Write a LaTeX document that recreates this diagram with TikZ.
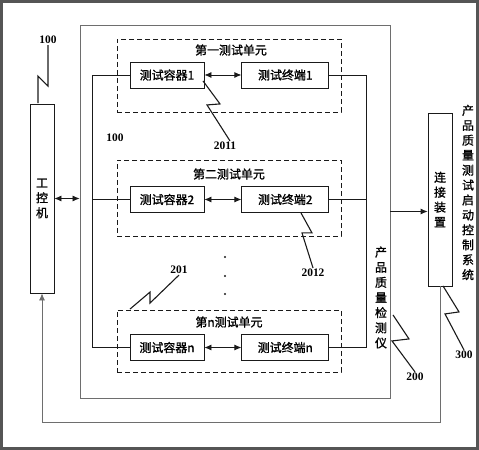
\documentclass[tikz,border=0pt]{standalone}
\usepackage{fontspec}
\setmainfont{Liberation Serif}
\newfontfamily\cjk[FakeBold=1.2]{Noto Sans CJK SC}
\usetikzlibrary{arrows.meta, positioning}
\definecolor{CLine}{HTML}{1A1A1A}
\definecolor{CGray}{HTML}{6E6E6E}
\definecolor{CFrame}{HTML}{555555}
\tikzset{
    devblock/.style={
        rectangle,
        draw=CLine,
        fill=white,
        inner sep=0pt,
        minimum height=26bp,
        font=\cjk\fontsize{12}{15}\selectfont,
        line width=0.8pt
    },
    unitblock/.style={
        rectangle,
        draw=CLine,
        dash pattern=on 5bp off 3bp,
        minimum width=224bp,
        inner sep=0pt,
        line width=0.8pt
    },
    tallblock/.style={
        rectangle,
        draw=CLine,
        minimum width=24bp,
        inner sep=0pt,
        line width=0.8pt
    },
    detblock/.style={
        rectangle,
        draw=CGray,
        inner sep=0pt,
        line width=0.8pt
    },
    vtext/.style={
        align=center,
        inner sep=0pt,
        font=\cjk\fontsize{12}{15}\selectfont
    },
    titletext/.style={
        inner sep=0pt,
        font=\cjk\fontsize{12}{14}\selectfont
    },
    numtext/.style={
        inner sep=1bp,
        font=\bfseries\fontsize{11.5}{12}\selectfont
    },
    flatarrow/.style={
        ->,
        >={Latex[length=7bp, width=6bp]},
        draw=CLine,
        line width=0.8pt
    },
    busline/.style={
        draw=CLine,
        line width=0.8pt
    },
    leader/.style={
        draw=CLine,
        line width=1.1pt
    }
}
\begin{document}
\begin{tikzpicture}[x=1bp, y=-1bp]
    \useasboundingbox (0,0) rectangle (479,450);
    \draw[draw=CFrame, line width=2.5bp] (1.5,1.5) rectangle (477.5,448.5);

    % Nodes
    \node[tallblock, vtext, minimum height=189bp] (ipc) at (42,198.5) {工\\控\\机};
    \node[detblock, minimum width=310bp, minimum height=373bp] (det) at (235,211.5) {};

    \node[unitblock, minimum height=73bp] (unitA) at (229,75.5) {};
    \node[unitblock, minimum height=76bp] (unitB) at (229,198) {};
    \node[unitblock, minimum height=62bp] (unitN) at (229,341) {};

    \node[titletext] (titleA) at (231,50) {第一测试单元};
    \node[titletext] (titleB) at (229,174) {第二测试单元};
    \node[titletext] (titleN) at (229,322) {第n测试单元};

    \node[devblock, minimum width=74bp] (contA) at (167,75) {测试容器1};
    \node[devblock, minimum width=87bp, right=37bp of contA] (termA) {测试终端1};
    \node[devblock, minimum width=74bp] (contB) at (167,199.5) {测试容器2};
    \node[devblock, minimum width=87bp, right=37bp of contB] (termB) {测试终端2};
    \node[devblock, minimum width=74bp] (contN) at (167,347.5) {测试容器n};
    \node[devblock, minimum width=87bp, right=37bp of contN] (termN) {测试终端n};

    \node[tallblock, vtext, minimum height=173bp] (conn) at (440,199.5) {连\\接\\装\\置};
    \node[vtext] (sysname) at (468,192.5) {产\\品\\质\\量\\测\\试\\启\\动\\控\\制\\系\\统};
    \node[vtext, font=\cjk\fontsize{12}{15.2}\selectfont] (detname) at (381,297.5) {产\\品\\质\\量\\检\\测\\仪};

    \foreach \y in {257,276,294}
        \fill[CLine] (225,\y) circle (1.2bp);

    \node[numtext] (numIpc) at (48,40) {100};
    \node[numtext] (numDet) at (115,138) {100};
    \node[numtext] (numA) at (225,146) {2011};
    \node[numtext] (numB) at (313,273) {2012};
    \node[numtext] (numUnit) at (179,270) {201};
    \node[numtext] (numDetector) at (415,377) {200};
    \node[numtext] (numSys) at (464,355) {300};

    % Paths
    \coordinate (lbus) at (92,0);
    \coordinate (rbus) at (366,0);

    \draw[busline] (contA.west) -- (contA.west -| lbus) -- (contN.west -| lbus) -- (contN.west);
    \draw[busline] (contB.west) -- (contB.west -| lbus);
    \draw[busline] (termA.east) -- (termA.east -| rbus) -- (termN.east -| rbus) -- (termN.east);
    \draw[busline] (termB.east) -- (termB.east -| rbus);

    \draw[flatarrow, <->] (contA) -- (termA);
    \draw[flatarrow, <->] (contB) -- (termB);
    \draw[flatarrow, <->] (contN) -- (termN);

    \draw[flatarrow, <->] (ipc.east) -- (ipc.east -| det.west);
    \draw[flatarrow] (det.east) -- (det.east -| conn.west);
    \draw[flatarrow, draw=CGray] (conn.south) -- ++(0,136) -| (ipc.south);

    % leaders
    \draw[leader] (numIpc.south) -- ++(0,41) -- ++(-10,-10) -- ++(0,27);
    \draw[leader] ([xshift=5bp]numA.north) -- ++(-23,-36) -- ++(13,-1) -- ++(-17,-23);
    \draw[leader] (numB.north) -- ++(-11,-35) -- ++(10,0) -- ++(-11,-20);
    \draw[leader] (numUnit.south) -- ++(-29,28) -- ++(0,-11) -- ++(-20,17);
    \draw[leader] (numDetector.north) -- ++(-23,-31) -- ++(17,-2) -- ++(-16,-24);
    \draw[leader] (numSys.north) -- ++(-19,-36) -- ++(14,-2) -- ++(-16,-26);

\end{tikzpicture}
\end{document}
